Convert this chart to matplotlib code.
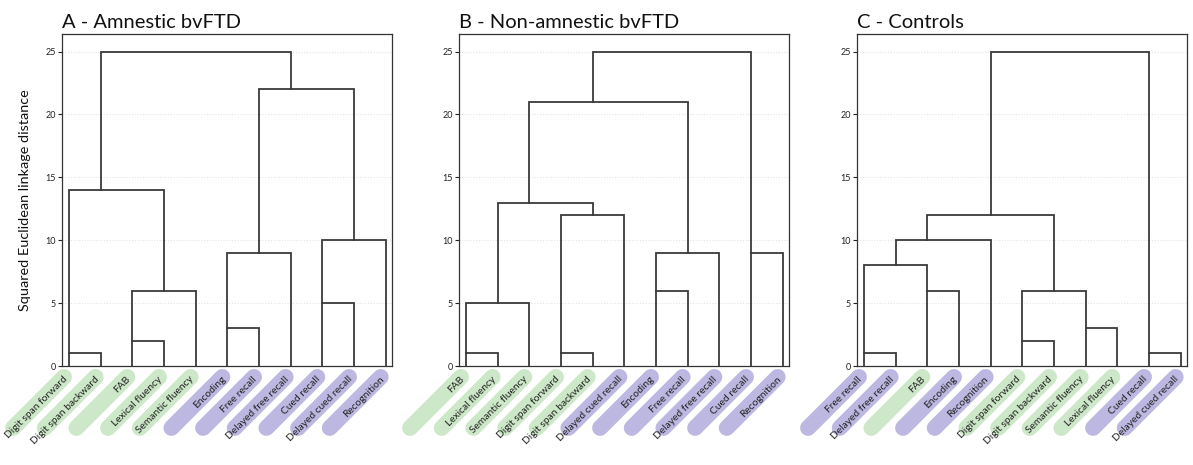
import matplotlib
matplotlib.use("Agg")
import matplotlib.pyplot as plt
from matplotlib.lines import Line2D
from matplotlib.transforms import IdentityTransform
import numpy as np

plt.rcParams['font.family'] = ['Lato', 'DejaVu Sans']

# ---------------- data ----------------
titles = ["A - Amnestic bvFTD", "B - Non-amnestic bvFTD", "C - Controls"]
y_label = "Squared Euclidean linkage distance"
y_ticks = [0, 5, 10, 15, 20, 25]

# Panel A
labels_A = ["Digit span forward", "Digit span backward", "FAB", "Lexical fluency",
            "Semantic fluency", "Encoding", "Free recall", "Delayed free recall",
            "Cued recall", "Delayed cued recall", "Recognition"]
domain_A = ["E", "E", "E", "E", "E", "M", "M", "M", "M", "M", "M"]
# each link: left leaf, right leaf, merge height, base of left arm, base of right arm
link_left_A = [0, 2, 2, 0, 5, 5, 8, 8, 6, 1]
link_right_A = [1, 3, 4, 3, 6, 7, 9, 10, 9, 7]
link_height_A = [1, 2, 6, 14, 3, 9, 5, 10, 22, 25]
link_lbase_A = [0, 0, 2, 1, 0, 3, 0, 5, 9, 14]
link_rbase_A = [0, 0, 0, 6, 0, 0, 0, 0, 10, 22]

# Panel B
labels_B = ["FAB", "Lexical fluency", "Semantic fluency", "Digit span forward",
            "Digit span backward", "Delayed cued recall", "Encoding", "Free recall",
            "Delayed free recall", "Cued recall", "Recognition"]
domain_B = ["E", "E", "E", "E", "E", "M", "M", "M", "M", "M", "M"]
link_left_B = [0, 0, 3, 3, 1, 6, 6, 9, 2, 4]
link_right_B = [1, 2, 4, 5, 4, 7, 8, 10, 7, 9]
link_height_B = [1, 5, 1, 12, 13, 6, 9, 9, 21, 25]
link_lbase_B = [0, 1, 0, 1, 5, 0, 6, 0, 13, 21]
link_rbase_B = [0, 0, 0, 0, 12, 0, 0, 0, 9, 9]

# Panel C
labels_C = ["Free recall", "Delayed free recall", "FAB", "Encoding", "Recognition",
            "Digit span forward", "Digit span backward", "Semantic fluency",
            "Lexical fluency", "Cued recall", "Delayed cued recall"]
domain_C = ["M", "M", "E", "M", "M", "E", "E", "E", "E", "M", "M"]
link_left_C = [0, 2, 0, 1, 5, 7, 5, 2, 9, 4]
link_right_C = [1, 3, 2, 4, 6, 8, 7, 6, 10, 9]
link_height_C = [1, 6, 8, 10, 2, 3, 6, 12, 1, 25]
link_lbase_C = [0, 0, 1, 8, 0, 0, 2, 10, 0, 12]
link_rbase_C = [0, 0, 6, 0, 0, 0, 3, 6, 0, 1]

panels = [
    (labels_A, domain_A, link_left_A, link_right_A, link_height_A, link_lbase_A, link_rbase_A),
    (labels_B, domain_B, link_left_B, link_right_B, link_height_B, link_lbase_B, link_rbase_B),
    (labels_C, domain_C, link_left_C, link_right_C, link_height_C, link_lbase_C, link_rbase_C),
]

# ---------------- style ----------------
W, H, DPI = 1193, 465, 100
line_col = "#3a3a3a"
pill_col = {"E": "#cde8c8", "M": "#bcb8e2"}
ax_lefts = [62, 459, 857]
ax_w = 330
ax_top, ax_bot = 34, 366

fig = plt.figure(figsize=(W / DPI, H / DPI), dpi=DPI)

for p, (labels, domain, ll, rr, hh, lb, rb) in enumerate(panels):
    ax = fig.add_axes([ax_lefts[p] / W, 1 - ax_bot / H, ax_w / W, (ax_bot - ax_top) / H])
    n = len(labels)
    ax.set_xlim(-0.22, n - 1 + 0.2)
    ax.set_ylim(0, 26.4)
    ax.set_yticks(y_ticks)
    ax.set_xticks([])
    ax.tick_params(axis='y', labelsize=6.5, length=3, width=0.8, pad=1.5,
                   colors="#222222")
    for s in ax.spines.values():
        s.set_color("#333333")
        s.set_linewidth(0.9)
    for t in y_ticks[1:]:
        ax.axhline(t, color="#e4e4e4", lw=0.8, ls=(0, (1, 1.5)), zorder=0)

    for a, b, h, l0, r0 in zip(ll, rr, hh, lb, rb):
        ax.plot([a, a, b, b], [l0, h, h, r0], color=line_col, lw=1.3,
                solid_joinstyle='miter', zorder=3, clip_on=False)

    ax.set_title(titles[p], loc='left', fontsize=14.5, pad=4, color="#111111")
    if p == 0:
        ax.set_ylabel(y_label, fontsize=10.4, color="#111111")
        ax.yaxis.set_label_coords(-0.095, 0.5)

    # labels with pill-shaped backgrounds
    L = 72.0
    for i, (lab, d) in enumerate(zip(labels, domain)):
        px, py = ax.transData.transform((i, 0))
        ex, ey = px - 5, py - 11
        fx, fy = ex - L / np.sqrt(2), ey - L / np.sqrt(2)
        ln = Line2D([ex, fx], [ey, fy], transform=IdentityTransform(),
                    color=pill_col[d], lw=11.5, solid_capstyle='round', zorder=1)
        ln.set_clip_on(False)
        ax.add_artist(ln)
        ax.annotate(lab, xy=(i, 0), xycoords='data', xytext=(-4, -11),
                    textcoords='offset pixels', rotation=45, ha='right',
                    va='center_baseline', rotation_mode='anchor', fontsize=7.4,
                    color="#222222", annotation_clip=False, zorder=5)

fig.savefig("out.png", dpi=DPI)
